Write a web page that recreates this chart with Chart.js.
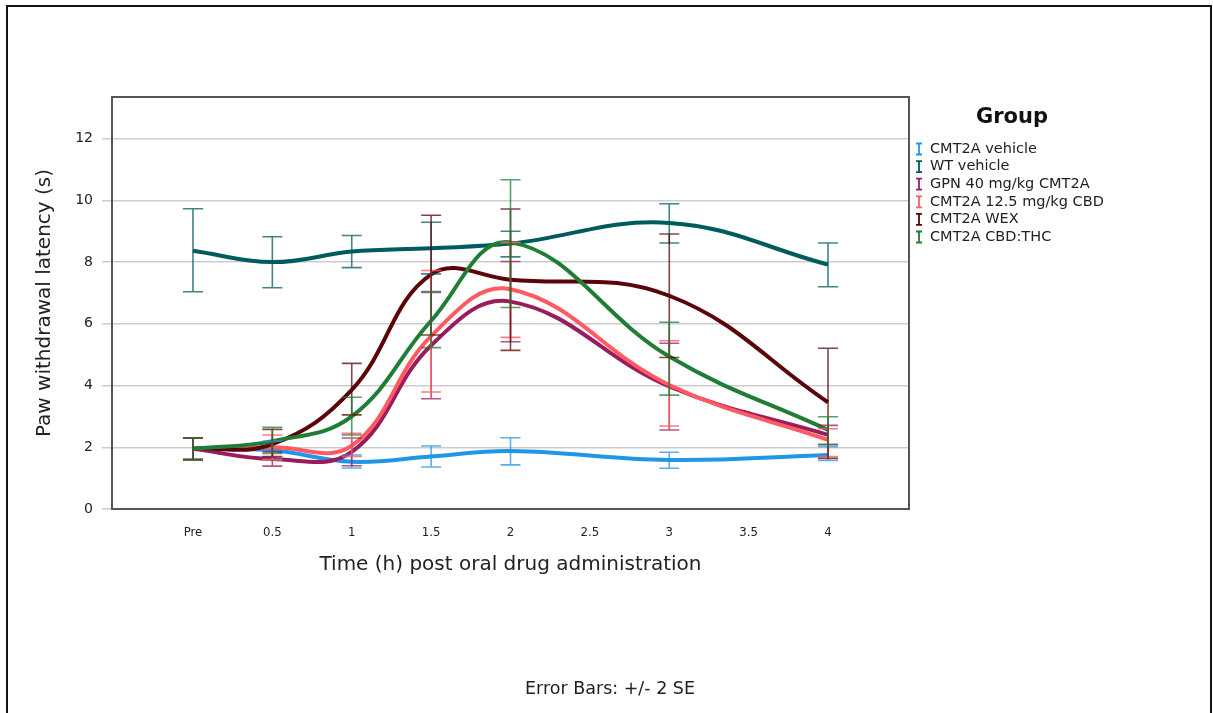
<!DOCTYPE html>
<html>
<head>
<meta charset="utf-8"/>
<style>
  html,body{margin:0;padding:0;background:#fff;}
  #wrap{position:relative;width:1213px;height:713px;}
</style>
</head>
<body>
<div id="wrap"><canvas id="c" width="1213" height="713"></canvas></div>
<script src="https://cdn.jsdelivr.net/npm/chart.js@4.4.0/dist/chart.umd.min.js"></script>
<script>
// x positions are slot indexes: Pre=0, 0.5=1 ... 4=8
const timeLabels = ['Pre', '0.5', '1', '1.5', '2', '2.5', '3', '3.5', '4'];
const sampleSlots = [0, 1, 2, 3, 4, 6, 8];
const yTicks = [0, 2, 4, 6, 8, 10, 12];

const groupNames = ['CMT2A vehicle', 'WT vehicle', 'GPN 40 mg/kg CMT2A', 'CMT2A 12.5 mg/kg CBD', 'CMT2A WEX', 'CMT2A CBD:THC'];
const groupColors = ['#2196e6', '#005b5e', '#9b1c5c', '#ff5a62', '#5a0509', '#1f7d36'];
const barColors   = ['rgba(33,150,230,0.75)', 'rgba(0,91,94,0.75)', 'rgba(155,28,92,0.75)', 'rgba(255,90,98,0.8)', 'rgba(90,5,9,0.75)', 'rgba(31,125,54,0.75)'];

const vehicleMean = [1.95, 1.90, 1.53, 1.70, 1.88, 1.59, 1.75];
const vehicleLow  = [1.60, 1.60, 1.33, 1.36, 1.43, 1.32, 1.57];
const vehicleHigh = [2.30, 2.20, 1.75, 2.04, 2.31, 1.84, 2.02];

const wtMean = [8.37, 8.00, 8.34, 8.45, 8.60, 9.27, 7.92];
const wtLow  = [7.04, 7.17, 7.82, 7.62, 8.17, 8.62, 7.20];
const wtHigh = [9.73, 8.82, 8.86, 9.29, 9.00, 9.89, 8.62];

const gpnMean = [1.95, 1.62, 1.85, 5.30, 6.72, 3.97, 2.40];
const gpnLow  = [1.60, 1.39, 1.40, 3.57, 5.42, 2.56, 2.10];
const gpnHigh = [2.30, 1.85, 2.30, 7.02, 8.02, 5.37, 2.71];

const cbdMean = [1.95, 2.00, 2.05, 5.60, 7.12, 4.02, 2.24];
const cbdLow  = [1.60, 1.60, 1.70, 3.79, 5.56, 2.69, 1.70];
const cbdHigh = [2.30, 2.40, 2.45, 7.73, 8.64, 5.45, 2.60];

const wexMean = [1.95, 2.10, 3.86, 7.60, 7.43, 6.91, 3.46];
const wexLow  = [1.60, 1.70, 3.05, 5.64, 5.14, 4.91, 1.64];
const wexHigh = [2.30, 2.58, 4.72, 9.52, 9.72, 8.91, 5.21];

const thcMean = [1.95, 2.20, 3.00, 6.10, 8.64, 4.94, 2.56];
const thcLow  = [1.60, 1.80, 2.40, 5.23, 6.53, 3.69, 2.08];
const thcHigh = [2.30, 2.65, 3.62, 7.05, 10.67, 6.05, 2.99];

const means = [vehicleMean, wtMean, gpnMean, cbdMean, wexMean, thcMean];
const lows  = [vehicleLow, wtLow, gpnLow, cbdLow, wexLow, thcLow];
const highs = [vehicleHigh, wtHigh, gpnHigh, cbdHigh, wexHigh, thcHigh];

const FONT = "'DejaVu Sans', sans-serif";

const errorBars = {
  id: 'errorBars',
  afterDatasetsDraw(chart) {
    const {ctx, scales: {x, y}} = chart;
    ctx.save();
    ctx.lineWidth = 1.6;
    means.forEach((m, g) => {
      ctx.strokeStyle = barColors[g];
      sampleSlots.forEach((slot, i) => {
        const px = x.getPixelForValue(slot);
        const top = y.getPixelForValue(highs[g][i]);
        const bot = y.getPixelForValue(lows[g][i]);
        ctx.beginPath();
        ctx.moveTo(px, top); ctx.lineTo(px, bot);
        ctx.moveTo(px - 10, top); ctx.lineTo(px + 10, top);
        ctx.moveTo(px - 10, bot); ctx.lineTo(px + 10, bot);
        ctx.stroke();
      });
    });
    ctx.restore();
  },
  afterDraw(chart) {
    const {ctx, chartArea: a} = chart;
    ctx.save();
    // plot frame
    ctx.strokeStyle = '#555';
    ctx.lineWidth = 2;
    ctx.strokeRect(a.left, a.top, a.right - a.left, a.bottom - a.top);
    // outer frame
    ctx.strokeStyle = '#111';
    ctx.strokeRect(7, 6, 1204, 712);
    // legend
    ctx.fillStyle = '#111';
    ctx.textAlign = 'center';
    ctx.textBaseline = 'middle';
    ctx.font = 'bold 21px ' + FONT;
    ctx.fillText('Group', 1012, 118);
    ctx.font = '14.5px ' + FONT;
    ctx.textAlign = 'left';
    groupNames.forEach((name, g) => {
      const ly = 149 + g * 17.6;
      ctx.strokeStyle = groupColors[g];
      ctx.lineWidth = 1.8;
      ctx.beginPath();
      ctx.moveTo(919, ly - 5.5); ctx.lineTo(919, ly + 5.5);
      ctx.moveTo(916, ly - 5.5); ctx.lineTo(922, ly - 5.5);
      ctx.moveTo(916, ly + 5.5); ctx.lineTo(922, ly + 5.5);
      ctx.stroke();
      ctx.fillStyle = '#222';
      ctx.fillText(name, 930, ly);
    });
    // footnote
    ctx.textAlign = 'center';
    ctx.font = '17.5px ' + FONT;
    ctx.fillStyle = '#222';
    ctx.fillText('Error Bars: +/- 2 SE', 610, 689);
    ctx.restore();
  }
};

new Chart(document.getElementById('c'), {
  type: 'line',
  data: {
    datasets: means.map((m, g) => ({
      label: groupNames[g],
      data: m.map((v, i) => ({x: sampleSlots[i], y: v})),
      borderColor: groupColors[g],
      borderWidth: 4,
      pointRadius: 0,
      tension: 0.4,
      fill: false,
      order: groupNames.length - 1 - g
    }))
  },
  options: {
    responsive: false,
    animation: false,
    layout: { padding: { left: 0, top: 97, right: 304, bottom: 132 } },
    plugins: { legend: { display: false }, tooltip: { enabled: false } },
    scales: {
      x: {
        type: 'linear',
        min: -1.02, max: 9.02,
        afterBuildTicks: s => { s.ticks = timeLabels.map((t, i) => ({value: i})); },
        afterFit: s => { s.height = 72; },
        grid: { display: false },
        border: { display: false },
        ticks: {
          autoSkip: false, maxRotation: 0, padding: 8,
          color: '#222',
          font: { family: "'DejaVu Sans Condensed', 'DejaVu Sans', sans-serif", size: 13 },
          callback: v => timeLabels[v]
        },
        title: {
          display: true,
          text: 'Time (h) post oral drug administration',
          color: '#222',
          font: { family: FONT, size: 20 },
          padding: { top: 0, bottom: 4 }
        }
      },
      y: {
        min: 0, max: 13.35,
        afterBuildTicks: s => { s.ticks = yTicks.map(v => ({value: v})); },
        afterFit: s => { s.width = 112; },
        grid: { color: '#cdcdcd', lineWidth: 1.5, tickLength: 10, drawTicks: true },
        border: { display: false },
        ticks: { padding: 9, color: '#222', font: { family: FONT, size: 14 } },
        title: {
          display: true,
          text: 'Paw withdrawal latency (s)',
          color: '#222',
          font: { family: FONT, size: 20 },
          padding: { top: 33, bottom: 0 }
        }
      }
    }
  },
  plugins: [errorBars]
});
</script>
</body>
</html>
